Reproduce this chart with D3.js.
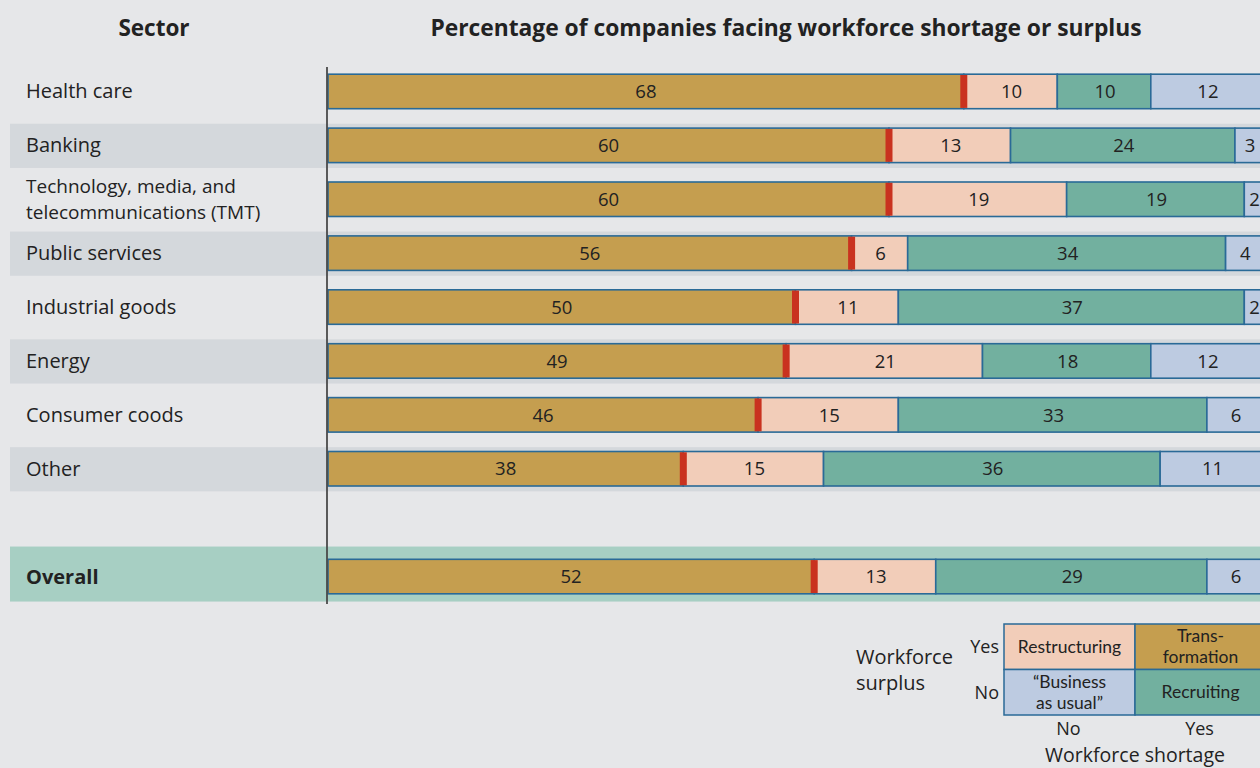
<!DOCTYPE html>
<html>
<head>
<meta charset="utf-8">
<script src="https://cdn.jsdelivr.net/npm/d3@7"></script>
<style>
  html, body { margin: 0; padding: 0; background: #e6e7e9; }
  svg { display: block; font-family: "Open Sans", "Noto Sans", sans-serif; }
</style>
</head>
<body>
<svg id="chart" width="1260" height="768"></svg>
<script>
// ---- Data ----
const sectors = ["Health care", "Banking", "Technology, media, and\ntelecommunications (TMT)", "Public services",
  "Industrial goods", "Energy", "Consumer coods", "Other", "Overall"];
const transformation = [68, 60, 60, 56, 50, 49, 46, 38, 52];
const restructuring  = [10, 13, 19, 6, 11, 21, 15, 15, 13];
const recruiting     = [10, 24, 19, 34, 37, 18, 33, 36, 29];
const businessAsUsual= [12, 3, 2, 4, 2, 12, 6, 11, 6];
const seriesNames = ["Transformation", "Restructuring", "Recruiting", "Business as usual"];
const shadedRows = ["Banking", "Public services", "Energy", "Other"];
const legendCells = [
  { label: ["Restructuring"], surplus: "Yes", shortage: "No", series: "Restructuring" },
  { label: ["Trans-", "formation"], surplus: "Yes", shortage: "Yes", series: "Transformation" },
  { label: ["\u201CBusiness", "as usual\u201D"], surplus: "No", shortage: "No", series: "Business as usual" },
  { label: ["Recruiting"], surplus: "No", shortage: "Yes", series: "Recruiting" }
];
const titleText = "Percentage of companies facing workforce shortage or surplus";
const sectorHeader = "Sector";

// ---- Styles ----
const colors = { "Transformation": "#c59e4f", "Restructuring": "#f2cdb9", "Recruiting": "#72b09f", "Business as usual": "#bdcbe1" };
const strokeColor = "#2a6a97";
const markerColor = "#c9321f";
const textColor = "#222";

const svg = d3.select("#chart");
const rows = sectors.map((s, i) => ({
  sector: s, values: [transformation[i], restructuring[i], recruiting[i], businessAsUsual[i]]
}));
const rowKeys = [...sectors.slice(0, 8), "__gap__", "Overall"];

const x = d3.scaleLinear().domain([0, 100]).range([328, 1263]);
const y = d3.scaleBand().domain(rowKeys).range([64.5, 603.5]).padding(0);
const step = y.step();
const barH = step * 0.64;
const bandH = step * 0.82;

// Row backgrounds
svg.append("g").selectAll("rect")
  .data(rows.filter(r => shadedRows.includes(r.sector)))
  .join("rect")
  .attr("x", 10).attr("width", 1250)
  .attr("y", d => y(d.sector) + step / 2 - bandH / 2 + 0.5)
  .attr("height", bandH)
  .attr("fill", "#d4d8dc");

// Overall band
svg.append("rect")
  .attr("x", 10).attr("width", 1250)
  .attr("y", y("Overall") + step / 2 - 30)
  .attr("height", 55)
  .attr("fill", "#a7cfc3");

// Bars
const barG = svg.append("g");
rows.forEach(r => {
  let acc = 0;
  const segs = r.values.map((v, j) => { const s = { x0: acc, x1: acc + v, v, name: seriesNames[j] }; acc += v; return s; });
  const cy = y(r.sector) + step / 2;
  const g = barG.append("g");
  g.selectAll("rect.seg").data(segs).join("rect")
    .attr("class", "seg")
    .attr("x", d => x(d.x0))
    .attr("width", d => x(d.x1) - x(d.x0))
    .attr("y", cy - barH / 2)
    .attr("height", barH)
    .attr("fill", d => colors[d.name])
    .attr("stroke", strokeColor)
    .attr("stroke-width", 1.6);
  // red marker at end of transformation
  g.append("rect")
    .attr("x", x(segs[0].x1) - 3.5)
    .attr("width", 7)
    .attr("y", cy - barH / 2 + 0.8)
    .attr("height", barH - 1.6)
    .attr("fill", markerColor);
  g.selectAll("text").data(segs).join("text")
    .attr("x", d => (x(d.x0) + x(d.x1)) / 2 + (d.name === "Transformation" ? 0 : 1))
    .attr("y", cy)
    .attr("dy", "0.36em")
    .attr("text-anchor", "middle")
    .attr("font-size", 18.5)
    .attr("fill", textColor)
    .text(d => d.v);
});

// Axis line
svg.append("line")
  .attr("x1", 327).attr("x2", 327)
  .attr("y1", 67).attr("y2", 604)
  .attr("stroke", "#4a4a4a").attr("stroke-width", 1.8);

// Sector labels
const labG = svg.append("g");
rows.forEach(r => {
  const lines = r.sector.split("\n");
  const cy = y(r.sector) + step / 2;
  const multi = lines.length > 1;
  const t = labG.append("text")
    .attr("x", 26)
    .attr("font-size", multi ? 19 : 20)
    .attr("font-weight", r.sector === "Overall" ? 700 : 400)
    .attr("fill", textColor);
  lines.forEach((ln, k) => {
    t.append("tspan").attr("x", 26)
      .attr("y", cy + (k - (lines.length - 1) / 2) * 26)
      .attr("dy", "0.35em")
      .text(ln);
  });
});

// Headers
svg.append("text").attr("x", 154).attr("y", 36).attr("text-anchor", "middle")
  .attr("font-size", 22.5).attr("font-weight", 700).attr("fill", textColor).text(sectorHeader);
svg.append("text").attr("x", 786).attr("y", 36).attr("text-anchor", "middle")
  .attr("font-size", 22.8).attr("font-weight", 700).attr("fill", textColor).text(titleText);

// Legend
const lx = d3.scaleBand().domain(["No", "Yes"]).range([1004, 1266]);
const ly = d3.scaleBand().domain(["Yes", "No"]).range([624, 715]);
const legG = svg.append("g");
legG.selectAll("rect").data(legendCells).join("rect")
  .attr("x", d => lx(d.shortage)).attr("y", d => ly(d.surplus))
  .attr("width", lx.bandwidth()).attr("height", ly.bandwidth())
  .attr("fill", d => colors[d.series])
  .attr("stroke", strokeColor).attr("stroke-width", 1.5);
legendCells.forEach(d => {
  const cx = lx(d.shortage) + lx.bandwidth() / 2;
  const cy = ly(d.surplus) + ly.bandwidth() / 2;
  const t = legG.append("text").attr("text-anchor", "middle")
    .attr("font-family", "Lato, 'Open Sans', sans-serif")
    .attr("font-size", 17.5).attr("fill", textColor);
  d.label.forEach((ln, k) => {
    t.append("tspan").attr("x", cx).attr("y", cy + (k - (d.label.length - 1) / 2) * 21.2).attr("dy", "0.35em").text(ln);
  });
});
["Yes", "No"].forEach(v => {
  legG.append("text").attr("x", 999).attr("y", ly(v) + ly.bandwidth() / 2).attr("dy", "0.35em")
    .attr("text-anchor", "end").attr("font-size", 18).attr("fill", textColor).text(v);
});
["No", "Yes"].forEach(v => {
  legG.append("text").attr("x", lx(v) + lx.bandwidth() / 2 - 1).attr("y", 729).attr("dy", "0.35em")
    .attr("text-anchor", "middle").attr("font-size", 18).attr("fill", textColor).text(v);
});
legG.append("text").attr("x", 856).attr("y", 657).attr("dy", "0.35em").attr("font-size", 20).attr("fill", textColor).text("Workforce");
legG.append("text").attr("x", 856).attr("y", 683).attr("dy", "0.35em").attr("font-size", 20).attr("fill", textColor).text("surplus");
legG.append("text").attr("x", 1135).attr("y", 762).attr("text-anchor", "middle").attr("font-size", 19.5).attr("fill", textColor).text("Workforce shortage");
</script>
</body>
</html>
